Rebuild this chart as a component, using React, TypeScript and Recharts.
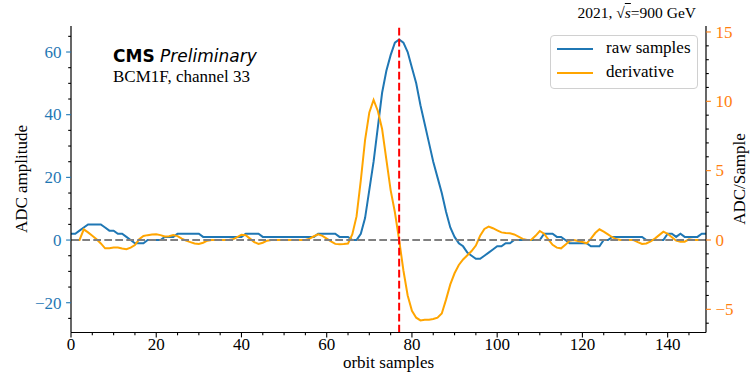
import { ComposedChart, Line, XAxis, YAxis, ReferenceLine } from "recharts";

// ADC counts per orbit sample (BCM1F channel 33)
const rawSamples = [
  2, 2, 3, 4, 5, 5, 5, 5, 4, 3,
  3, 2, 2, 1, 0, -1, -1, -1, 0, 0,
  0, 0, 1, 1, 1, 2, 2, 2, 2, 2,
  2, 1, 1, 1, 1, 1, 1, 1, 1, 1,
  1, 2, 2, 2, 2, 1, 1, 1, 1, 1,
  1, 1, 1, 1, 1, 1, 1, 1, 2, 2,
  2, 2, 2, 1, 1, 1, 0, 0, 2, 7,
  16, 25, 36, 47, 54, 59, 63, 64, 63, 60,
  55, 50, 43, 37, 31, 25, 20, 15, 9, 4,
  1, -1, -2, -4, -5, -6, -6, -5, -4, -3,
  -2, -2, -1, -1, 0, 0, 0, 0, 0, 0,
  0, 2, 2, 2, 1, 1, 0, -1, -1, -1,
  -1, -1, -2, -2, -2, 0, 0, 1, 1, 1,
  1, 1, 1, 1, 1, 0, 0, 0, 0, 0,
  2, 2, 1, 2, 1, 1, 1, 1, 2, 2,
];

// smoothed derivative, ADC per sample
const derivative = [
  0, 0, 0, 0.77, 0.55, 0.3, 0.05, -0.25, -0.6, -0.6,
  -0.55, -0.55, -0.62, -0.67, -0.55, -0.36, 0.05, 0.29, 0.35, 0.4,
  0.41, 0.35, 0.25, 0.27, 0.35, 0.28, 0.1, -0.05, -0.15, -0.25,
  -0.29, -0.2, -0.05, 0, 0, 0, 0, 0, 0.05, 0.2,
  0.38, 0.35, 0.1, -0.15, -0.29, -0.2, -0.05, 0, 0, 0,
  0, 0, 0, 0, 0, 0, 0.1, 0.27, 0.41, 0.3,
  0.1, -0.1, -0.28, -0.3, -0.28, -0.25, 0.4, 1.7, 4.3, 7.2,
  9.2, 10.1, 9.3, 8.0, 5.8, 3.6, 2.0, 0, -2.2, -4.0,
  -5.1, -5.6, -5.8, -5.75, -5.75, -5.7, -5.6, -5.3, -4.3, -3.2,
  -2.4, -1.8, -1.4, -1.1, -0.8, -0.4, 0.3, 0.8, 0.97, 0.85,
  0.7, 0.55, 0.5, 0.48, 0.4, 0.25, 0.08, 0, 0.02, 0.3,
  0.65, 0.45, 0.05, -0.35, -0.55, -0.6, -0.35, -0.05, 0, -0.07,
  -0.15, -0.24, 0.1, 0.5, 0.77, 0.6, 0.4, 0.2, 0.05, 0,
  0, 0, 0, -0.15, -0.29, -0.25, -0.1, 0.1, 0.35, 0.6,
  0.45, 0.2, -0.05, -0.12, -0.12, 0.05, 0, 0, 0, 0,
];

const xTicks = [0, 5, 10, 15, 20, 25, 30, 35, 40, 45, 50, 55, 60, 65, 70, 75, 80, 85, 90, 95, 100, 105, 110, 115, 120, 125, 130, 135, 140, 145];
const leftTicks = [-25, -20, -15, -10, -5, 0, 5, 10, 15, 20, 25, 30, 35, 40, 45, 50, 55, 60, 65];
const rightTicks = [-6, -5, -4, -3, -2, -1, 0, 1, 2, 3, 4, 5, 6, 7, 8, 9, 10, 11, 12, 13, 14, 15];

const peakSample = 77;

const BLUE = "#1f77b4";
const ORANGE = "#ffa500";
const TICK_ORANGE = "#ff7f0e";
const SERIF = "'Liberation Serif', 'DejaVu Serif', serif";
const SANS = "'DejaVu Sans', sans-serif";
const FS = 17;
const MAJOR = 4.9;
const MINOR = 2.8;

const data = rawSamples.map((v, i) => ({ sample: i, raw: v, deriv: derivative[i] }));

const fmt = (v: number) => (v < 0 ? "\u2212" + Math.abs(v) : String(v));

function BottomTick({ x, y, payload }: any) {
  const v = payload.value;
  const major = v % 20 === 0;
  return (
    <g>
      <line x1={x} x2={x} y1={y} y2={y + (major ? MAJOR : MINOR)} stroke="#000" strokeWidth={1.1} />
      {major && (
        <text x={x} y={y + 17.5} textAnchor="middle" fontSize={FS} fontFamily={SERIF} fill="#000">
          {fmt(v)}
        </text>
      )}
    </g>
  );
}

function LeftTick({ x, y, payload }: any) {
  const v = payload.value;
  const major = v % 20 === 0;
  return (
    <g>
      <line x1={x} x2={x - (major ? MAJOR : MINOR)} y1={y} y2={y} stroke={major ? BLUE : "#000"} strokeWidth={1.1} />
      {major && (
        <text x={x - 9.5} y={y + 5.8} textAnchor="end" fontSize={FS} fontFamily={SERIF} fill={BLUE}>
          {fmt(v)}
        </text>
      )}
    </g>
  );
}

function RightTick({ x, y, payload }: any) {
  const v = payload.value;
  const major = v % 5 === 0;
  return (
    <g>
      <line x1={x} x2={x + (major ? MAJOR : MINOR)} y1={y} y2={y} stroke={major ? TICK_ORANGE : "#000"} strokeWidth={1.1} />
      {major && (
        <text x={x + 9.5} y={y + 5.8} textAnchor="start" fontSize={FS} fontFamily={SERIF} fill={TICK_ORANGE}>
          {fmt(v)}
        </text>
      )}
    </g>
  );
}

export default function App() {
  return (
    <div style={{ position: "absolute", left: 0, top: 0, width: 752, height: 376, background: "#fff" }}>
      <ComposedChart width={752} height={376} data={data} margin={{ top: 26, right: 0, bottom: 0, left: 0 }}>
        <XAxis
          dataKey="sample"
          type="number"
          domain={[0, 149]}
          allowDataOverflow
          ticks={xTicks}
          interval={0}
          height={43.5}
          tickSize={0}
          tickMargin={0}
          tick={<BottomTick />}
          axisLine={{ stroke: "#000", strokeWidth: 1.2 }}
        />
        <XAxis
          xAxisId="top"
          dataKey="sample"
          type="number"
          domain={[0, 149]}
          orientation="top"
          height={0}
          tick={false}
          tickLine={false}
          axisLine={{ stroke: "#000", strokeWidth: 1.2 }}
        />
        <YAxis
          yAxisId="left"
          type="number"
          domain={[-29.5, 68.3]}
          allowDataOverflow
          ticks={leftTicks}
          interval={0}
          width={71}
          tickSize={0}
          tickMargin={0}
          tick={<LeftTick />}
          axisLine={{ stroke: "#000", strokeWidth: 1.2 }}
        />
        <YAxis
          yAxisId="right"
          orientation="right"
          type="number"
          domain={[-6.67, 15.43]}
          allowDataOverflow
          ticks={rightTicks}
          interval={0}
          width={46}
          tickSize={0}
          tickMargin={0}
          tick={<RightTick />}
          axisLine={{ stroke: "#000", strokeWidth: 1.2 }}
        />
        <Line
          yAxisId="left"
          dataKey="raw"
          type="linear"
          stroke={BLUE}
          strokeWidth={2}
          dot={false}
          isAnimationActive={false}
        />
        <Line
          yAxisId="right"
          dataKey="deriv"
          type="linear"
          stroke={ORANGE}
          strokeWidth={2}
          dot={false}
          isAnimationActive={false}
        />
        <ReferenceLine yAxisId="right" y={0} stroke="#808080" strokeWidth={2} strokeDasharray="7.7 3.3" />
        <ReferenceLine yAxisId="left" x={peakSample} stroke="#ff0000" strokeWidth={2} strokeDasharray="7.7 3.3" />
      </ComposedChart>

      {/* annotations */}
      <div style={{ position: "absolute", left: 113, top: 45, fontFamily: SANS, fontSize: FS, lineHeight: "22px", whiteSpace: "nowrap" }}>
        <b>CMS</b> <i>Preliminary</i>
      </div>
      <div style={{ position: "absolute", left: 113, top: 66, fontFamily: SERIF, fontSize: FS, lineHeight: "22px", whiteSpace: "nowrap" }}>
        BCM1F, channel 33
      </div>
      <div style={{ position: "absolute", right: 752 - 696, top: 3, fontFamily: SERIF, fontSize: 15.5, lineHeight: "20px", whiteSpace: "nowrap" }}>
        2021, √<span style={{ textDecoration: "overline", fontStyle: "italic" }}>s</span>=900 GeV
      </div>

      {/* axis titles */}
      <div style={{ position: "absolute", left: 388.5, top: 363, transform: "translate(-50%, -50%)", fontFamily: SERIF, fontSize: FS, whiteSpace: "nowrap" }}>
        orbit samples
      </div>
      <div style={{ position: "absolute", left: 22, top: 179, transform: "translate(-50%, -50%) rotate(-90deg)", fontFamily: SERIF, fontSize: FS, whiteSpace: "nowrap" }}>
        ADC amplitude
      </div>
      <div style={{ position: "absolute", left: 740, top: 179, transform: "translate(-50%, -50%) rotate(-90deg)", fontFamily: SERIF, fontSize: FS, whiteSpace: "nowrap" }}>
        ADC/Sample
      </div>

      {/* legend */}
      <div
        style={{
          position: "absolute",
          left: 550,
          top: 35,
          width: 148,
          height: 54,
          boxSizing: "border-box",
          border: "1px solid #d0d0d0",
          borderRadius: 4,
          background: "rgba(255,255,255,0.8)",
          fontFamily: SERIF,
          fontSize: FS,
        }}
      >
        {[
          { name: "raw samples", color: BLUE, y: 12 },
          { name: "derivative", color: ORANGE, y: 36 },
        ].map((e) => (
          <div key={e.name}>
            <div style={{ position: "absolute", left: 6, top: e.y, width: 36, height: 2, background: e.color }} />
            <div style={{ position: "absolute", left: 55, top: e.y - 12, lineHeight: "24px", whiteSpace: "nowrap" }}>{e.name}</div>
          </div>
        ))}
      </div>
    </div>
  );
}
